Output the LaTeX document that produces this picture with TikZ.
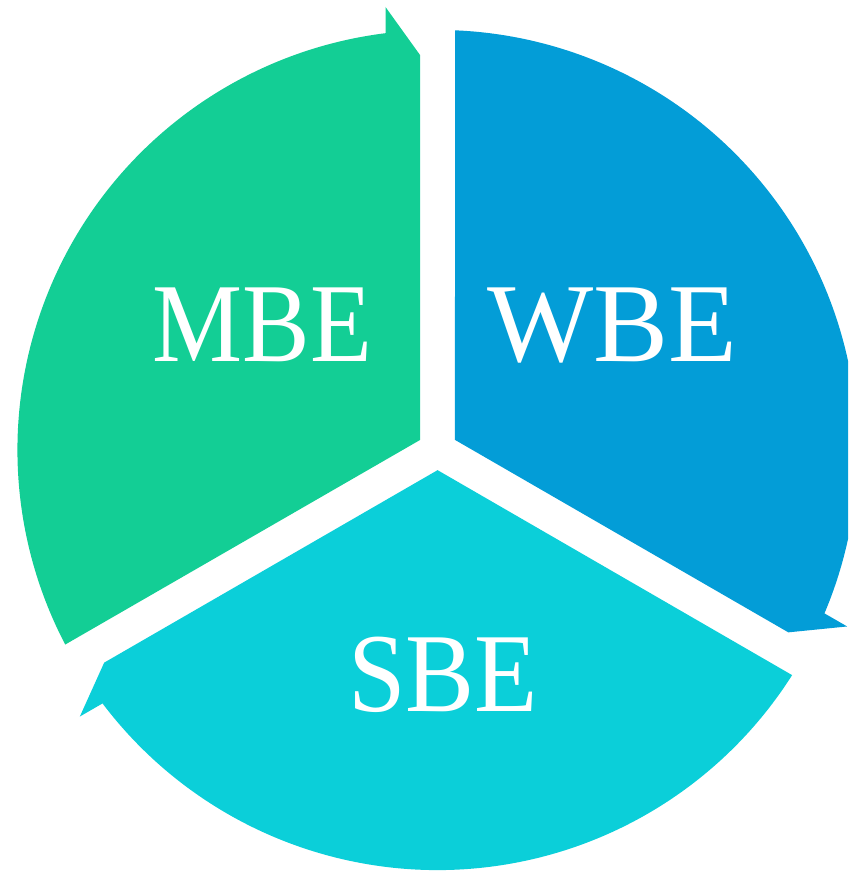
\documentclass[tikz,border=0pt]{standalone}
\usepackage{fontspec}
\setmainfont{Liberation Serif}
\definecolor{cyclegreen}{HTML}{13CE95}
\definecolor{cycleblue}{HTML}{039DD7}
\definecolor{cycleteal}{HTML}{0BCFD9}

\tikzset{
  segment/.style={draw=none},
  seglabel/.style={text=white, anchor=base, inner sep=0pt, font=\fontsize{32}{38}\selectfont}
}

\begin{document}
\begin{tikzpicture}
                \useasboundingbox (-4.375,-4.22) rectangle (4.105,4.50);
                \clip (-4.375,-4.22) rectangle (4.105,4.50);
                
                % one arrow segment, drawn with its head at the top, then turned
                \fill[segment,cyclegreen] (-0.175,0.10) -- (-0.175,3.95) -- (-0.52,4.43) -- (-0.52,4.168)
                    arc[start angle=97.1, end angle=207.6, radius=4.2] -- cycle;
                \fill[segment,cycleblue,rotate=-120] (-0.175,0.10) -- (-0.175,3.95) -- (-0.52,4.43) -- (-0.52,4.168)
                    arc[start angle=97.1, end angle=207.6, radius=4.2] -- cycle;
                \fill[segment,cycleteal,rotate=-240] (-0.175,0.10) -- (-0.175,3.95) -- (-0.52,4.43) -- (-0.52,4.168)
                    arc[start angle=97.1, end angle=207.6, radius=4.2] -- cycle;
                
                \node[seglabel] (mbe) at (-1.75,0.88) {\scalebox{0.9}[1]{MBE}};
                \node[seglabel] (wbe) at (1.745,0.88) {WBE};
                \node[seglabel] (sbe) at (0.055,-2.61) {\scalebox{0.92}[1]{SBE}};
            \end{tikzpicture}
\end{document}
